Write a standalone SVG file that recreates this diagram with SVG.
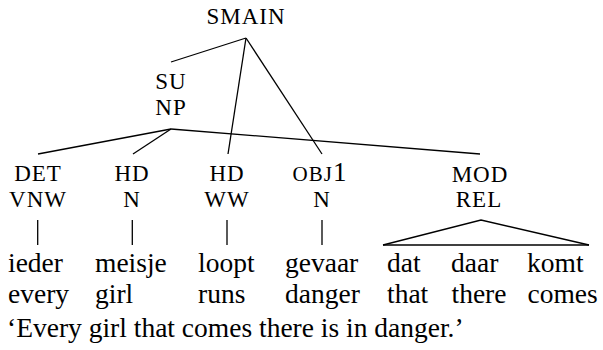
<svg xmlns="http://www.w3.org/2000/svg" width="603" height="350" viewBox="0 0 603 350">
<style>
.lab{font-family:'Liberation Serif','DejaVu Serif',serif;font-size:23px;letter-spacing:1px;text-anchor:middle;fill:#000}
.w{font-family:'Liberation Serif','DejaVu Serif',serif;font-size:27.5px;fill:#000}
.e line,.e polyline{stroke:#000;stroke-width:1.3;fill:none}
</style>
<rect width="603" height="350" fill="#fff"/>
<g id="connectors" class="e">
<line x1="246" y1="38" x2="171" y2="62"/>
<line x1="246" y1="38" x2="228" y2="154"/>
<line x1="246" y1="38" x2="322" y2="154"/>
<line x1="171" y1="129" x2="38" y2="154"/>
<line x1="171" y1="129" x2="133" y2="154"/>
<line x1="171" y1="129" x2="480" y2="154"/>
<line x1="37.7" y1="220" x2="37.7" y2="245"/>
<line x1="132.3" y1="220" x2="132.3" y2="245"/>
<line x1="227" y1="220" x2="227" y2="245"/>
<line x1="322" y1="220" x2="322" y2="245"/>
<polyline points="383,245 481,220 589,245"/>
<line x1="383" y1="245" x2="589" y2="245"/>
</g>
<g id="smain"><text class="lab" x="246" y="24">SMAIN</text></g>
<g id="su"><text class="lab" x="171" y="89">SU</text><text class="lab" x="171" y="115">NP</text></g>
<g id="det"><text class="lab" x="38" y="181">DET</text><text class="lab" x="38" y="207">VNW</text></g>
<g id="hd1"><text class="lab" x="132" y="181">HD</text><text class="lab" x="132" y="207">N</text></g>
<g id="hd2"><text class="lab" x="227" y="181">HD</text><text class="lab" x="227" y="207">WW</text></g>
<g id="obj1"><text class="lab" x="320" y="181" style="font-size:21px">OBJ<tspan style="font-size:27px">1</tspan></text><text class="lab" x="322" y="207">N</text></g>
<g id="mod"><text class="lab" x="480" y="182">MOD</text><text class="lab" x="479" y="207">REL</text></g>
<g id="words">
<text class="w" x="8" y="272">ieder</text>
<text class="w" x="95" y="272">meisje</text>
<text class="w" x="198" y="272">loopt</text>
<text class="w" x="285" y="272">gevaar</text>
<text class="w" x="387" y="272">dat</text>
<text class="w" x="451" y="272">daar</text>
<text class="w" x="527" y="272">komt</text>
</g>
<g id="gloss">
<text class="w" x="8" y="303">every</text>
<text class="w" x="95" y="303">girl</text>
<text class="w" x="198" y="303">runs</text>
<text class="w" x="285" y="303">danger</text>
<text class="w" x="387" y="303">that</text>
<text class="w" x="451.5" y="303">there</text>
<text class="w" x="527.5" y="303">comes</text>
</g>
<g id="translation"><text class="w" x="7" y="337">‘Every girl that comes there is in danger.’</text></g>
</svg>
